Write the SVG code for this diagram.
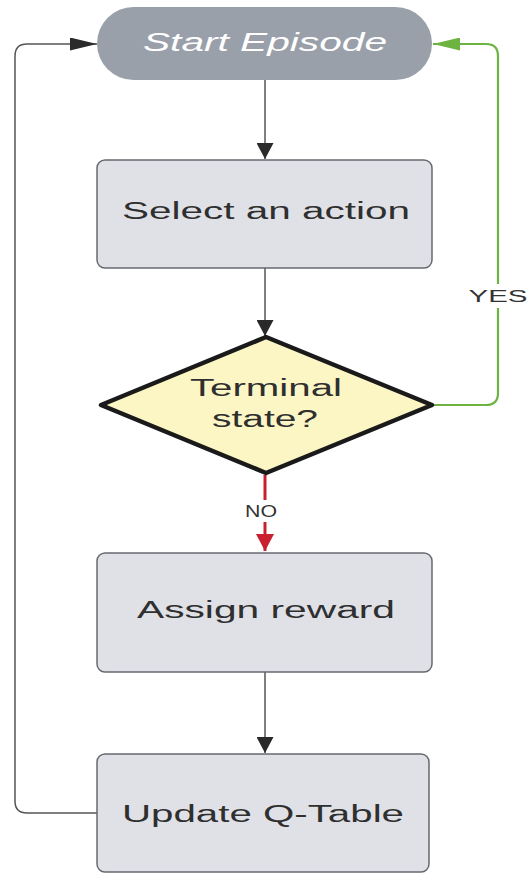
<svg xmlns="http://www.w3.org/2000/svg" width="528" height="874" viewBox="0 0 528 874">
  <style>
    .box { fill: #dfe1e6; stroke: #666a70; stroke-width: 1.5; }
    .label { font-family: "Liberation Sans", Arial, sans-serif; font-size: 23.5px; fill: #2f2f2f; text-anchor: middle; }
    .edge { fill: none; stroke: #555; stroke-width: 1.5; }
    .small { font-family: "Liberation Sans", Arial, sans-serif; font-size: 16px; fill: #333; text-anchor: middle; }
  </style>
  <defs>
    <!-- vertical arrowheads: 17 wide, 16 long -->
    <marker id="arrowV" viewBox="0 0 16 17" refX="16" refY="8.5" markerWidth="16" markerHeight="17" markerUnits="userSpaceOnUse" orient="auto">
      <path d="M0,0 L16,8.5 L0,17 z" fill="#2a2a2a"/>
    </marker>
    <marker id="arrowRed" viewBox="0 0 16 17" refX="16" refY="8.5" markerWidth="17" markerHeight="18" markerUnits="userSpaceOnUse" orient="auto">
      <path d="M0,0 L16,8.5 L0,17 z" fill="#c8202f"/>
    </marker>
    <!-- horizontal arrowheads: 27 long, 13 tall -->
    <marker id="arrowH" viewBox="0 0 27 13" refX="27" refY="6.5" markerWidth="27" markerHeight="13" markerUnits="userSpaceOnUse" orient="auto">
      <path d="M0,0 L27,6.5 L0,13 z" fill="#2a2a2a"/>
    </marker>
    <marker id="arrowHGreen" viewBox="0 0 27 13" refX="27" refY="6.5" markerWidth="29" markerHeight="13" markerUnits="userSpaceOnUse" orient="auto">
      <path d="M0,0 L27,6.5 L0,13 z" fill="#6db33f"/>
    </marker>
  </defs>
  <rect width="528" height="874" fill="#ffffff"/>

  <g id="connectors">
    <path class="edge" d="M265,80 V159" marker-end="url(#arrowV)"/>
    <path class="edge" d="M265,268 V336" marker-end="url(#arrowV)"/>
    <path d="M265,475 V551" fill="none" stroke="#c8202f" stroke-width="3" marker-end="url(#arrowRed)"/>
    <path class="edge" d="M265,672 V753" marker-end="url(#arrowV)"/>
    <path class="edge" d="M97,813 H27 Q15,813 15,801 V56 Q15,44 27,44 H97" marker-end="url(#arrowH)"/>
    <path d="M432,405 H486 Q498,405 498,393 V56 Q498,44 486,44 H433" fill="none" stroke="#6db33f" stroke-width="2.2" marker-end="url(#arrowHGreen)"/>
    <rect x="466" y="284" width="62" height="24" fill="#ffffff"/>
    <text class="small" x="498" y="302" font-size="17" textLength="59" lengthAdjust="spacingAndGlyphs">YES</text>
    <rect x="240" y="500" width="50" height="22" fill="#ffffff"/>
    <text class="small" x="261" y="517" textLength="32" lengthAdjust="spacingAndGlyphs">NO</text>
  </g>

  <g id="start">
    <rect x="97" y="7" width="335" height="73" rx="36.5" fill="#9aa0aa"/>
    <text x="265" y="51" font-family="Liberation Sans, Arial, sans-serif" font-size="26" font-style="italic" fill="#ffffff" text-anchor="middle" textLength="244" lengthAdjust="spacingAndGlyphs">Start Episode</text>
  </g>

  <g id="select">
    <rect class="box" x="97" y="160" width="335" height="108" rx="8"/>
    <text class="label" x="266" y="219" textLength="288" lengthAdjust="spacingAndGlyphs">Select an action</text>
  </g>

  <g id="terminal">
    <path d="M266,337 L432,405 L266,473 L101,405 Z" fill="#fbf6c4" stroke="#1a1a1a" stroke-width="4.5" stroke-linejoin="round"/>
    <text class="label" x="266" y="396" textLength="152" lengthAdjust="spacingAndGlyphs">Terminal</text>
    <text class="label" x="265" y="427" textLength="106" lengthAdjust="spacingAndGlyphs">state?</text>
  </g>

  <g id="reward">
    <rect class="box" x="97" y="553" width="335" height="119" rx="8"/>
    <text class="label" x="266" y="618" textLength="258" lengthAdjust="spacingAndGlyphs">Assign reward</text>
  </g>

  <g id="update">
    <rect class="box" x="97" y="754" width="332" height="118" rx="8"/>
    <text class="label" x="263" y="822" textLength="282" lengthAdjust="spacingAndGlyphs">Update Q-Table</text>
  </g>
</svg>
